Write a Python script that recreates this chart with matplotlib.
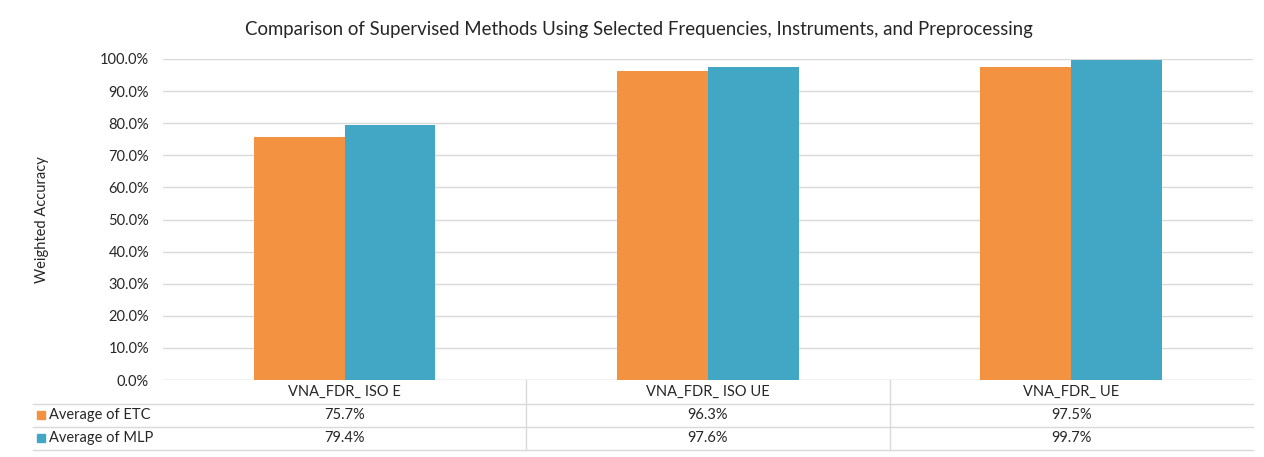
import matplotlib
matplotlib.use("Agg")
import matplotlib.pyplot as plt
from matplotlib.transforms import blended_transform_factory
from matplotlib.ticker import PercentFormatter
import numpy as np

plt.rcParams['font.family'] = ['Lato', 'DejaVu Sans']

categories = ['VNA_FDR_ ISO E', 'VNA_FDR_ ISO UE', 'VNA_FDR_ UE']
series_names = ['Average of ETC', 'Average of MLP']
etc_acc = [0.757, 0.963, 0.975]
mlp_acc = [0.794, 0.976, 0.997]
colors = ['#F39240', '#41A7C4']
text_col = '#262626'
grid_col = '#D9D9D9'

W, H = 1264, 457
fig = plt.figure(figsize=(W / 100, H / 100), dpi=100)
ax = fig.add_axes([163 / W, 1 - 380 / H, (1253 - 163) / W, (380 - 59) / H])

x = np.arange(len(categories))
width = 0.25
ax.bar(x - width / 2, etc_acc, width, color=colors[0], zorder=3)
ax.bar(x + width / 2, mlp_acc, width, color=colors[1], zorder=3)

ax.set_xlim(-0.5, len(categories) - 0.5)
ax.set_ylim(0, 1.0)
ax.set_yticks(np.arange(0, 1.01, 0.1))
ax.yaxis.set_major_formatter(PercentFormatter(1.0, decimals=1))
ax.tick_params(axis='y', length=0, pad=10, labelsize=10.5, labelcolor=text_col)
ax.set_xticks([])
ax.grid(axis='y', color=grid_col, linewidth=1, zorder=0)
for s in ax.spines.values():
    s.set_visible(False)
ax.axhline(0, color=grid_col, linewidth=1, zorder=2)

fig.text(42 / W, 1 - 220 / H, 'Weighted Accuracy', rotation=90, ha='center',
         va='center', fontsize=10.5, color=text_col)
fig.text(639 / W, 1 - 30 / H,
         'Comparison of Supervised Methods Using Selected Frequencies, Instruments, and Preprocessing',
         ha='center', va='center', fontsize=13.4, color=text_col)

# data table under the plot
ph = 380 - 59
row_y = [-12 / ph, -35 / ph, -58 / ph]
line_y = [-23.5 / ph, -46.5 / ph, -69.5 / ph]
tr_data = blended_transform_factory(ax.transData, ax.transAxes)
tr_fig = blended_transform_factory(fig.transFigure, ax.transAxes)

for i, cat in enumerate(categories):
    ax.text(x[i], row_y[0], cat, transform=tr_data, ha='center', va='center',
            fontsize=10.5, color=text_col, clip_on=False)
    ax.text(x[i], row_y[1], f'{etc_acc[i] * 100:.1f}%', transform=tr_data,
            ha='center', va='center', fontsize=10.5, color=text_col, clip_on=False)
    ax.text(x[i], row_y[2], f'{mlp_acc[i] * 100:.1f}%', transform=tr_data,
            ha='center', va='center', fontsize=10.5, color=text_col, clip_on=False)

for j, name in enumerate(series_names):
    ax.plot([41 / W], [row_y[j + 1]], marker='s', markersize=5.5, color=colors[j],
            transform=tr_fig, clip_on=False)
    ax.text(49 / W, row_y[j + 1], name, transform=tr_fig, ha='left', va='center',
            fontsize=10.5, color=text_col, clip_on=False)

for ly in line_y:
    ax.plot([33 / W, 1253 / W], [ly, ly], color=grid_col, linewidth=1,
            transform=tr_fig, clip_on=False)

for bx in [0.5, 1.5]:
    ax.plot([bx, bx], [0, line_y[-1]], color=grid_col, linewidth=1,
            transform=tr_data, clip_on=False)

fig.savefig('out.png', dpi=100, facecolor='white')
